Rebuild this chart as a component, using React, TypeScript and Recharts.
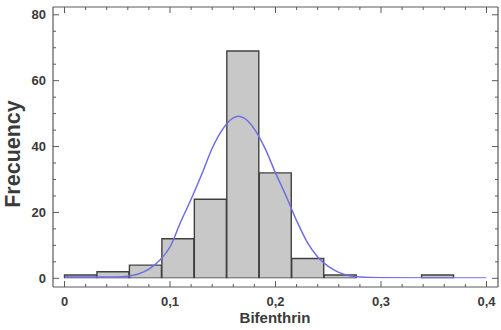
import { ComposedChart, Bar, Line, XAxis, YAxis } from "recharts";

// histogram bins (13 bins of width 0.4/13 from 0 to 0.4)
const bins = ["b1", "b2", "b3", "b4", "b5", "b6", "b7", "b8", "b9", "b10", "b11", "b12", "b13"];
const counts = [1, 2, 4, 12, 24, 69, 32, 6, 1, 0, 0, 1, 0];

// fitted density curve
const curveX = [0, 0.03, 0.05, 0.06, 0.07, 0.08, 0.09, 0.1, 0.11, 0.12, 0.13, 0.14, 0.15, 0.16, 0.165, 0.17, 0.18, 0.19, 0.2, 0.21, 0.22, 0.23, 0.24, 0.25, 0.26, 0.27, 0.28, 0.3, 0.35, 0.4];
const curveY = [0.5, 0.4, 0.4, 0.6, 1.3, 2.8, 5.4, 9.5, 17, 24, 31.5, 39.5, 45.3, 48.7, 49.2, 48.7, 45.3, 39.5, 32, 25, 17.5, 11, 6.5, 3.6, 1.8, 0.8, 0.4, 0.2, 0.1, 0.1];

const xTicks = [0, 0.02, 0.04, 0.06, 0.08, 0.1, 0.12, 0.14, 0.16, 0.18, 0.2, 0.22, 0.24, 0.26, 0.28, 0.3, 0.32, 0.34, 0.36, 0.38, 0.4];
const yTicks = [0, 5, 10, 15, 20, 25, 30, 35, 40, 45, 50, 55, 60, 65, 70, 75, 80];

const barData = bins.map((bin, i) => ({ bin, count: counts[i] }));
const curveData = curveX.map((x, i) => ({ x, y: curveY[i] }));

const FRAME = "#5a5a5a";
const FONT = "'Liberation Sans', Arial, sans-serif";
const TEXT = "#3a3a3a";

const isMajorX = (v: number) => Math.abs(v * 10 - Math.round(v * 10)) < 1e-6;
const isMajorY = (v: number) => v % 20 === 0;
const fmtX = (v: number) => (v === 0 ? "0" : v.toFixed(1).replace(".", ","));

const BottomTick = ({ x, y, payload }: any) => {
  const major = isMajorX(payload.value);
  return (
    <g>
      <line x1={x} x2={x} y1={y} y2={y - (major ? 6 : 3)} stroke={FRAME} />
      {major && (
        <text x={x} y={y + 19} textAnchor="middle" fontSize={13} fontWeight="bold" fill={TEXT} fontFamily={FONT}>
          {fmtX(payload.value)}
        </text>
      )}
    </g>
  );
};

const TopTick = ({ x, y, payload }: any) => {
  const major = isMajorX(payload.value);
  return <line x1={x} x2={x} y1={y} y2={y + (major ? 6 : 3)} stroke={FRAME} />;
};

const LeftTick = ({ x, y, payload }: any) => {
  const major = isMajorY(payload.value);
  return (
    <g>
      <line x1={x} x2={x + (major ? 6 : 3)} y1={y} y2={y} stroke={FRAME} />
      {major && (
        <text x={x - 7} y={y} dy="0.36em" textAnchor="end" fontSize={13} fontWeight="bold" fill={TEXT} fontFamily={FONT}>
          {payload.value}
        </text>
      )}
    </g>
  );
};

const RightTick = ({ x, y, payload }: any) => {
  const major = isMajorY(payload.value);
  return <line x1={x} x2={x - (major ? 6 : 3)} y1={y} y2={y} stroke={FRAME} />;
};

const xPad = { left: 11.5, right: 11.5 };
const yPad = { top: 7.8, bottom: 8.7 };

export default function App() {
  return (
    <div style={{ position: "absolute", left: 0, top: 0, background: "#fff" }}>
      <ComposedChart
        width={501}
        height={330}
        data={barData}
        barCategoryGap={0}
        barGap={0}
        margin={{ top: 0, right: 0, bottom: 0, left: 0 }}
      >
        <XAxis
          xAxisId="num"
          dataKey="x"
          type="number"
          domain={[0, 0.4]}
          ticks={xTicks}
          interval={0}
          padding={xPad}
          height={43}
          tickSize={0}
          tickMargin={0}
          tickLine={false}
          tick={<BottomTick />}
          axisLine={{ stroke: FRAME, strokeWidth: 1.2 }}
          allowDataOverflow
          label={{
            content: () => (
              <text x={275} y={323} textAnchor="middle" fontSize={15} fontWeight="bold" fill={TEXT} fontFamily={FONT}>
                Bifenthrin
              </text>
            ),
          }}
        />
        <XAxis
          xAxisId="top"
          orientation="top"
          dataKey="x"
          type="number"
          domain={[0, 0.4]}
          ticks={xTicks}
          interval={0}
          padding={xPad}
          height={7}
          tickSize={0}
          tickMargin={0}
          tickLine={false}
          tick={<TopTick />}
          axisLine={{ stroke: FRAME, strokeWidth: 1.2 }}
          allowDataOverflow
        />
        <XAxis xAxisId="bins" dataKey="bin" type="category" hide height={0} padding={xPad} />
        <YAxis
          yAxisId="left"
          type="number"
          domain={[0, 80]}
          ticks={yTicks}
          interval={0}
          padding={yPad}
          width={53}
          tickSize={0}
          tickMargin={0}
          tickLine={false}
          tick={<LeftTick />}
          axisLine={{ stroke: FRAME, strokeWidth: 1.2 }}
          allowDataOverflow
          label={{
            content: () => (
              <text
                x={20}
                y={154}
                transform="rotate(-90 20 154)"
                textAnchor="middle"
                fontSize={21.5}
                fontWeight="bold"
                fill={TEXT}
                fontFamily={FONT}
              >
                Frecuency
              </text>
            ),
          }}
        />
        <YAxis
          yAxisId="right"
          orientation="right"
          dataKey="y"
          type="number"
          domain={[0, 80]}
          ticks={yTicks}
          interval={0}
          padding={yPad}
          width={3}
          tickSize={0}
          tickMargin={0}
          tickLine={false}
          tick={<RightTick />}
          axisLine={{ stroke: FRAME, strokeWidth: 1.2 }}
          allowDataOverflow
        />
        <Bar
          xAxisId="bins"
          yAxisId="left"
          dataKey="count"
          fill="#c8c8c8"
          stroke="#404040"
          strokeWidth={1.4}
          isAnimationActive={false}
        />
        <Line
          xAxisId="num"
          yAxisId="left"
          data={curveData}
          dataKey="y"
          type="monotone"
          stroke="#6f6fe4"
          strokeWidth={1.5}
          dot={false}
          isAnimationActive={false}
        />
      </ComposedChart>
    </div>
  );
}
